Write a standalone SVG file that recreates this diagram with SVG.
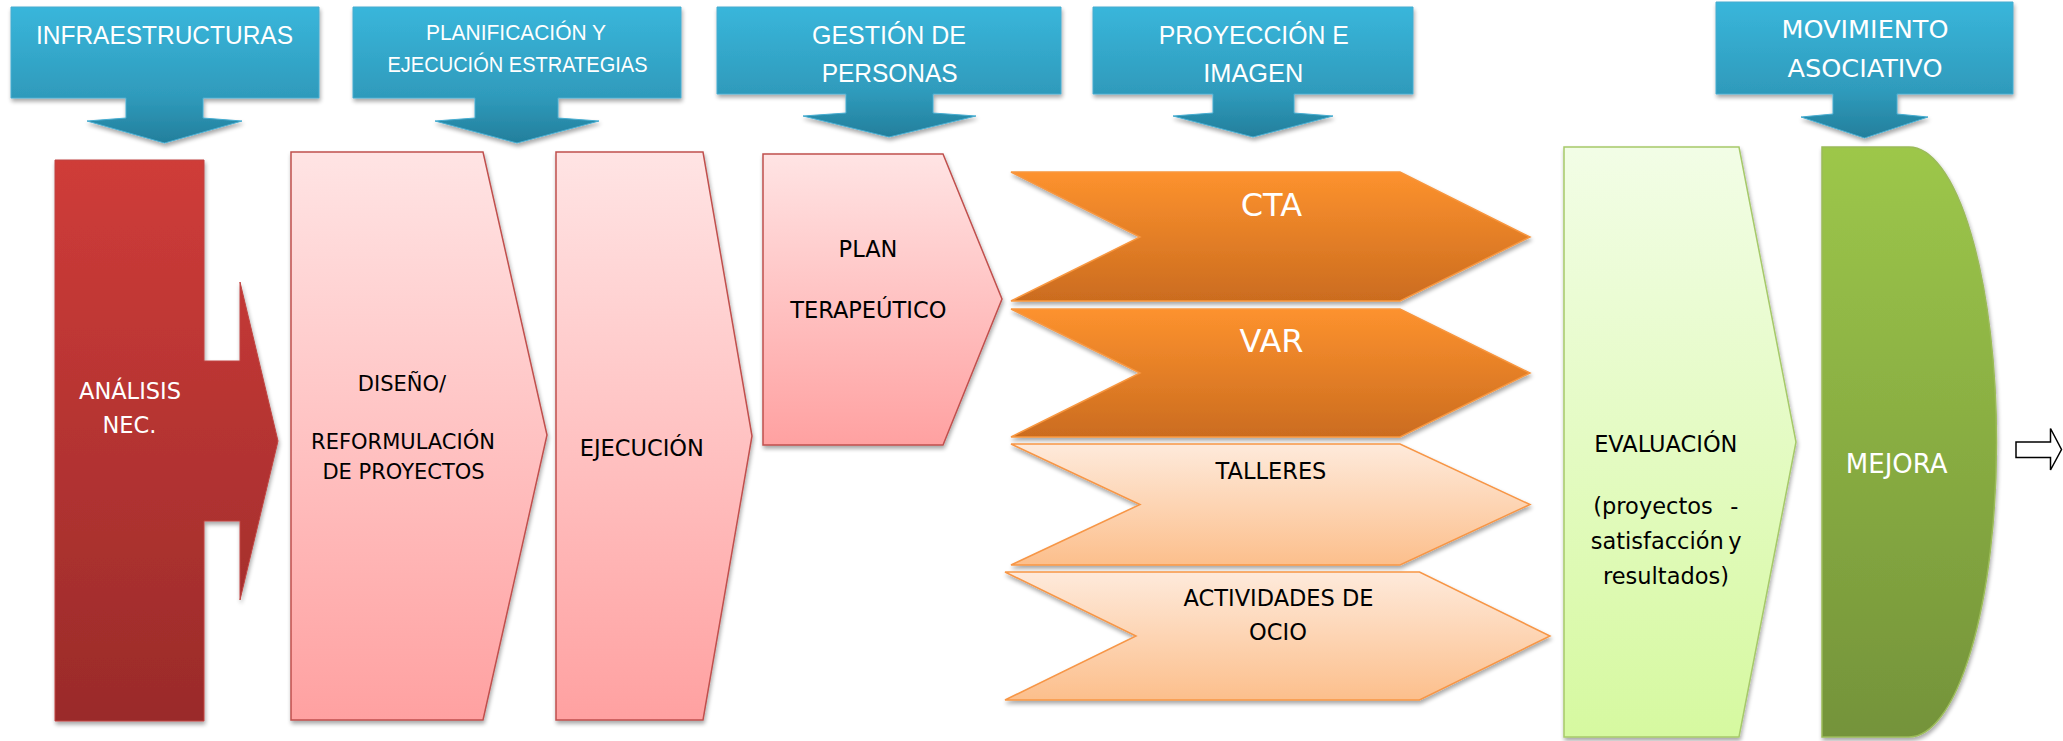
<svg xmlns="http://www.w3.org/2000/svg" width="2063" height="741" viewBox="0 0 2063 741">
<style>
.hd{font-family:"Liberation Sans",Arial,sans-serif;fill:#fff;text-anchor:middle}
.bk{font-family:"DejaVu Sans","Liberation Sans",sans-serif;fill:#000;text-anchor:middle;font-size:22.5px}
.wt{font-family:"DejaVu Sans","Liberation Sans",sans-serif;fill:#fff;text-anchor:middle;font-size:22.5px}
.st{text-anchor:start}
.en{text-anchor:end}
.blue{fill:url(#gBlue);stroke:#46acd0;stroke-width:1;filter:url(#sh)}
.pink{fill:url(#gPink);stroke:#c0504d;stroke-width:1.5;filter:url(#sh)}
.org{fill:url(#gOrg);stroke:#f7963f;stroke-width:1.5;filter:url(#sh)}
.lorg{fill:url(#gLOrg);stroke:#f79646;stroke-width:1.5;filter:url(#sh)}
</style>
<defs>
<filter id="sh" x="-10%" y="-10%" width="130%" height="130%">
<feGaussianBlur in="SourceAlpha" stdDeviation="2"/>
<feOffset dx="1" dy="3" result="b"/>
<feComponentTransfer><feFuncA type="linear" slope="0.35"/></feComponentTransfer>
<feMerge><feMergeNode/><feMergeNode in="SourceGraphic"/></feMerge>
</filter>
<linearGradient id="gBlue" x1="0" y1="0" x2="0" y2="1"><stop offset="0" stop-color="#39b6db"/><stop offset="0.65" stop-color="#2f9bbc"/><stop offset="1" stop-color="#237f9c"/></linearGradient>
<linearGradient id="gRed" x1="0" y1="0" x2="0" y2="1"><stop offset="0" stop-color="#cf3c39"/><stop offset="1" stop-color="#9a2b2a"/></linearGradient>
<linearGradient id="gPink" x1="0" y1="0" x2="0" y2="1"><stop offset="0" stop-color="#ffe4e4"/><stop offset="1" stop-color="#ffa1a1"/></linearGradient>
<linearGradient id="gOrg" x1="0" y1="0" x2="0" y2="1"><stop offset="0" stop-color="#fd922e"/><stop offset="1" stop-color="#cb6c1f"/></linearGradient>
<linearGradient id="gLOrg" x1="0" y1="0" x2="0" y2="1"><stop offset="0" stop-color="#feeadb"/><stop offset="1" stop-color="#fcbf8c"/></linearGradient>
<linearGradient id="gLGreen" x1="0" y1="0" x2="0" y2="1"><stop offset="0" stop-color="#f2fde6"/><stop offset="1" stop-color="#d6f9a0"/></linearGradient>
<linearGradient id="gGreen" x1="0" y1="0" x2="0" y2="1"><stop offset="0" stop-color="#9dc74a"/><stop offset="1" stop-color="#74933a"/></linearGradient>
</defs>

<g id="infraestructuras">
<path class="blue" d="M11,7 H319 V98 H203 V118 L242,121 L164.5,143 L87,121 L126,118 V98 H11 Z"/>
<text class="hd" x="164.5" y="44" style="font-size:26.5px" textLength="257" lengthAdjust="spacingAndGlyphs">INFRAESTRUCTURAS</text>
</g>
<g id="planificacion">
<path class="blue" d="M353,7 H681 V98 H558 V118 L599,121 L517,143 L435,121 L475,118 V98 H353 Z"/>
<text class="hd" x="516" y="40" style="font-size:22.5px" textLength="180" lengthAdjust="spacingAndGlyphs">PLANIFICACIÓN Y</text>
<text class="hd" x="517.5" y="71.5" style="font-size:22.5px" textLength="260" lengthAdjust="spacingAndGlyphs">EJECUCIÓN ESTRATEGIAS</text>
</g>
<g id="gestion">
<path class="blue" d="M717,7 H1061 V94 H933 V113 L976,116 L889,137 L803,116 L846,113 V94 H717 Z"/>
<text class="hd" x="889" y="44.3" style="font-size:26px" textLength="154" lengthAdjust="spacingAndGlyphs">GESTIÓN DE</text>
<text class="hd" x="889.7" y="81.7" style="font-size:26px" textLength="136" lengthAdjust="spacingAndGlyphs">PERSONAS</text>
</g>
<g id="proyeccion">
<path class="blue" d="M1093,7 H1413 V94 H1294 V113 L1333,116 L1253,137 L1173,116 L1213,113 V94 H1093 Z"/>
<text class="hd" x="1253.8" y="44.3" style="font-size:26px" textLength="190" lengthAdjust="spacingAndGlyphs">PROYECCIÓN E</text>
<text class="hd" x="1253.3" y="81.7" style="font-size:26px" textLength="100" lengthAdjust="spacingAndGlyphs">IMAGEN</text>
</g>
<g id="movimiento">
<path class="blue" d="M1716,2 H2013 V94 H1897 V114 L1928,117 L1864.5,138 L1801,117 L1833,114 V94 H1716 Z"/>
<text class="wt" x="1865" y="38.3" style="font-size:25.5px" textLength="167" lengthAdjust="spacingAndGlyphs">MOVIMIENTO</text>
<text class="wt" x="1865" y="77.3" style="font-size:25.5px" textLength="155" lengthAdjust="spacingAndGlyphs">ASOCIATIVO</text>
</g>

<g id="analisis">
<path d="M55,160 H204 V361 H240 V282 L278,441 L240,600 V521 H204 V721 H55 Z" fill="url(#gRed)" stroke="#c04542" stroke-width="1" filter="url(#sh)"/>
<text class="wt" x="130" y="398.7">ANÁLISIS</text>
<text class="wt" x="129.5" y="433">NEC.</text>
</g>
<g id="diseno">
<path class="pink" d="M291,152 H483 L547,435 L483,720 H291 Z"/>
<text class="bk" x="402" y="391" style="font-size:21px">DISEÑO/</text>
<text class="bk" x="403" y="449" style="font-size:21px">REFORMULACIÓN</text>
<text class="bk" x="403.5" y="479.3" style="font-size:21px">DE PROYECTOS</text>
</g>
<g id="ejecucion">
<path class="pink" d="M556,152 H703 L752,436 L703,720 H556 Z"/>
<text class="bk" x="641.8" y="456">EJECUCIÓN</text>
</g>
<g id="plan">
<path class="pink" d="M763,154 H943 L1002,299 L943,445 H763 Z"/>
<text class="bk" x="868" y="256.5">PLAN</text>
<text class="bk" x="868.3" y="318">TERAPEÚTICO</text>
</g>

<g id="cta">
<path class="org" d="M1011,172 H1400 L1530,237 L1400,301 H1011 L1140,237 Z"/>
<text class="wt" x="1271.4" y="216.3" style="font-size:32px">CTA</text>
</g>
<g id="var">
<path class="org" d="M1011,309 H1400 L1530,373 L1400,437 H1011 L1140,373 Z"/>
<text class="wt" x="1271.6" y="351.8" style="font-size:32px">VAR</text>
</g>
<g id="talleres">
<path class="lorg" d="M1011,444 H1400 L1530,504.5 L1400,565 H1011 L1140,504.5 Z"/>
<text class="bk" x="1271" y="478.5">TALLERES</text>
</g>
<g id="actividades">
<path class="lorg" d="M1005,572 H1419.5 L1550,636 L1419.5,700 H1005 L1136,636 Z"/>
<text class="bk" x="1278.6" y="605.6">ACTIVIDADES DE</text>
<text class="bk" x="1278" y="640">OCIO</text>
</g>

<g id="evaluacion">
<path d="M1564,147 H1739 L1796,442 L1739,737 H1564 Z" fill="url(#gLGreen)" stroke="#a6c96a" stroke-width="1.5" filter="url(#sh)"/>
<text class="bk" x="1665.8" y="452">EVALUACIÓN</text>
<text class="bk st" x="1593.3" y="514">(proyectos <tspan class="en" x="1738.3">-</tspan></text>
<text class="bk st" x="1590.7" y="549">satisfacción <tspan class="en" x="1741.7">y</tspan></text>
<text class="bk" x="1666" y="584">resultados)</text>
</g>
<g id="mejora">
<path d="M1822,147 H1909 A87.5,295 0 0 1 1909,737 H1822 Z" fill="url(#gGreen)" stroke="#9bbb59" stroke-width="1.5" filter="url(#sh)"/>
<text class="wt" x="1896.7" y="473" style="font-size:26px">MEJORA</text>
</g>

<g id="connectors">
<path d="M2016,442 H2050.5 V428.5 L2061.5,449.5 L2050.5,470 V457.5 H2016 Z" fill="#fff" stroke="#000" stroke-width="1.5"/>
</g>
</svg>
